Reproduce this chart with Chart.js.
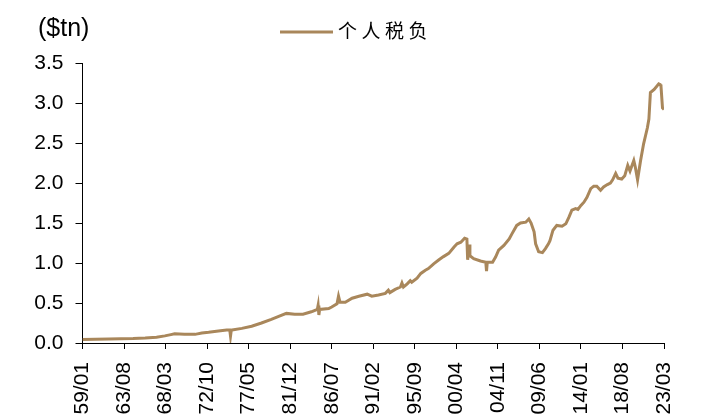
<!DOCTYPE html>
<html>
<head>
<meta charset="utf-8">
<script src="https://cdn.jsdelivr.net/npm/chart.js@4"></script>
<style>
  html, body { margin: 0; padding: 0; background: #fff; }
  #wrap { width: 705px; height: 418px; }
</style>
</head>
<body>
<div id="wrap"><canvas id="c" width="705" height="418"></canvas></div>
<script>
// Personal current taxes, trillions of US dollars (monthly, SAAR)
const dates = [
  '1959-01','1960-06','1961-12','1963-04','1964-08','1965-12','1967-03','1968-02','1968-10','1969-03',
  '1970-04','1971-06','1972-03','1972-12','1974-01','1974-12','1975-04','1975-05','1975-06','1975-07',
  '1976-08','1977-09','1978-10','1979-11','1980-08','1981-07','1982-06','1983-05','1984-04','1984-12',
  '1985-01','1985-02','1985-03','1986-03','1986-07','1987-02','1987-04','1987-06','1988-01','1988-10',
  '1989-07','1990-06','1990-12','1991-09','1992-06','1992-10','1992-12','1993-07','1994-02','1994-04',
  '1994-06','1994-11','1995-03','1995-05','1995-12','1996-05','1996-11','1997-03','1997-10','1998-05',
  '1998-11','1999-06','2000-01','2000-05','2000-10','2001-03','2001-06','2001-07','2001-09','2001-10',
  '2002-03','2002-12','2003-07','2003-08','2003-09','2003-12','2004-04','2004-08','2004-12','2005-07',
  '2006-02','2006-06','2006-12','2007-05','2007-12','2008-04','2008-07','2008-11','2009-01','2009-05',
  '2009-10','2010-02','2010-06','2010-08','2010-12','2011-05','2011-12','2012-05','2012-09','2013-01',
  '2013-06','2013-09','2014-01','2014-05','2014-09','2015-02','2015-06','2015-10','2016-03','2016-07',
  '2016-12','2017-04','2017-07','2017-11','2018-02','2018-07','2018-11','2019-03','2019-06','2019-11',
  '2020-01','2020-04','2020-08','2020-12','2021-04','2021-05','2021-07','2021-09','2022-02','2022-08',
  '2022-10','2022-11','2023-01','2023-03'
];
const taxes = [
  0.043,0.048,0.050,0.054,0.055,0.062,0.072,0.089,0.105,0.116,
  0.110,0.108,0.125,0.133,0.150,0.162,0.162,0.087,0.160,0.162,
  0.183,0.210,0.250,0.295,0.330,0.370,0.360,0.360,0.390,0.420,
  0.470,0.350,0.420,0.430,0.450,0.490,0.585,0.510,0.510,0.560,
  0.585,0.610,0.585,0.600,0.620,0.660,0.630,0.670,0.700,0.750,
  0.700,0.740,0.780,0.760,0.810,0.870,0.910,0.930,0.990,1.040,
  1.080,1.120,1.200,1.240,1.260,1.310,1.300,1.040,1.230,1.090,
  1.055,1.025,1.010,0.900,1.010,1.010,1.010,1.075,1.160,1.220,
  1.300,1.370,1.470,1.500,1.510,1.550,1.500,1.390,1.240,1.140,
  1.130,1.180,1.240,1.280,1.410,1.470,1.460,1.490,1.570,1.660,
  1.680,1.670,1.720,1.760,1.820,1.930,1.960,1.960,1.910,1.950,
  1.980,2.000,2.040,2.120,2.060,2.050,2.090,2.220,2.150,2.280,
  2.200,2.040,2.280,2.490,2.650,2.690,2.800,3.130,3.170,3.240,
  3.230,3.210,2.940,2.920
];
// x-axis tick labels (every 55 months from 1959/01)
const tickLabels = ['59/01','63/08','68/03','72/10','77/05','81/12','86/07','91/02',
                    '95/09','00/04','04/11','09/06','14/01','18/08','23/03'];
const seriesName = '个人税负';
const unitLabel = '($tn)';

const START_YEAR = 1959;
const monthIndex = d => {
  const [y, m] = d.split('-').map(Number);
  return (y - START_YEAR) * 12 + (m - 1);
};
const points = dates.map((d, i) => ({ x: monthIndex(d), y: taxes[i] }));
const TICK_STEP = 55;
const lastMonth = TICK_STEP * (tickLabels.length - 1);

const lineColor = '#A9875B';
const axisFont = { family: '"Liberation Sans", Arial, sans-serif', size: 21 };

// unit caption and legend drawn in the header strip
const headerPlugin = {
  id: 'header',
  afterDraw(chart) {
    const ctx = chart.ctx;
    ctx.save();
    ctx.fillStyle = '#000';
    ctx.textBaseline = 'middle';
    ctx.textAlign = 'left';
    ctx.font = '25px "Liberation Sans", Arial, sans-serif';
    ctx.fillText(unitLabel, 38, 29);

    const ds = chart.data.datasets[0];
    ctx.strokeStyle = ds.borderColor;
    ctx.lineWidth = 3;
    ctx.beginPath();
    ctx.moveTo(280, 32);
    ctx.lineTo(333, 32);
    ctx.stroke();
    ctx.font = '19px "Noto Sans CJK SC", sans-serif';
    const chars = Array.from(ds.label);
    chars.forEach((ch, i) => ctx.fillText(ch, 338 + i * 23.5, 31));
    ctx.restore();
  }
};

new Chart(document.getElementById('c'), {
  type: 'line',
  data: {
    datasets: [{
      label: seriesName,
      data: points,
      borderColor: lineColor,
      borderWidth: 3,
      pointRadius: 0,
      tension: 0,
      fill: false
    }]
  },
  options: {
    responsive: false,
    animation: false,
    devicePixelRatio: 1,
    layout: { padding: { top: 63, right: 41, left: 0, bottom: 0 } },
    plugins: {
      legend: { display: false },
      tooltip: { enabled: false }
    },
    scales: {
      x: {
        type: 'linear',
        min: 0,
        max: lastMonth,
        afterBuildTicks(scale) {
          scale.ticks = tickLabels.map((_, i) => ({ value: i * TICK_STEP }));
        },
        afterFit(scale) { scale.height = 418 - 343; },
        ticks: {
          autoSkip: false,
          minRotation: 90,
          maxRotation: 90,
          padding: 13,
          color: '#000',
          font: axisFont,
          callback: (v, i) => tickLabels[i]
        },
        grid: { display: true, drawOnChartArea: false, drawTicks: true, tickLength: 6, color: '#000' },
        border: { display: true, color: '#000', width: 1 }
      },
      y: {
        min: 0,
        max: 3.5,
        afterFit(scale) { scale.width = 82.5; },
        ticks: {
          stepSize: 0.5,
          padding: 12,
          color: '#000',
          font: axisFont,
          callback: v => v.toFixed(1)
        },
        grid: { display: true, drawOnChartArea: false, drawTicks: true, tickLength: 7, color: '#000' },
        border: { display: true, color: '#000', width: 1 }
      }
    }
  },
  plugins: [headerPlugin]
});
</script>
</body>
</html>
